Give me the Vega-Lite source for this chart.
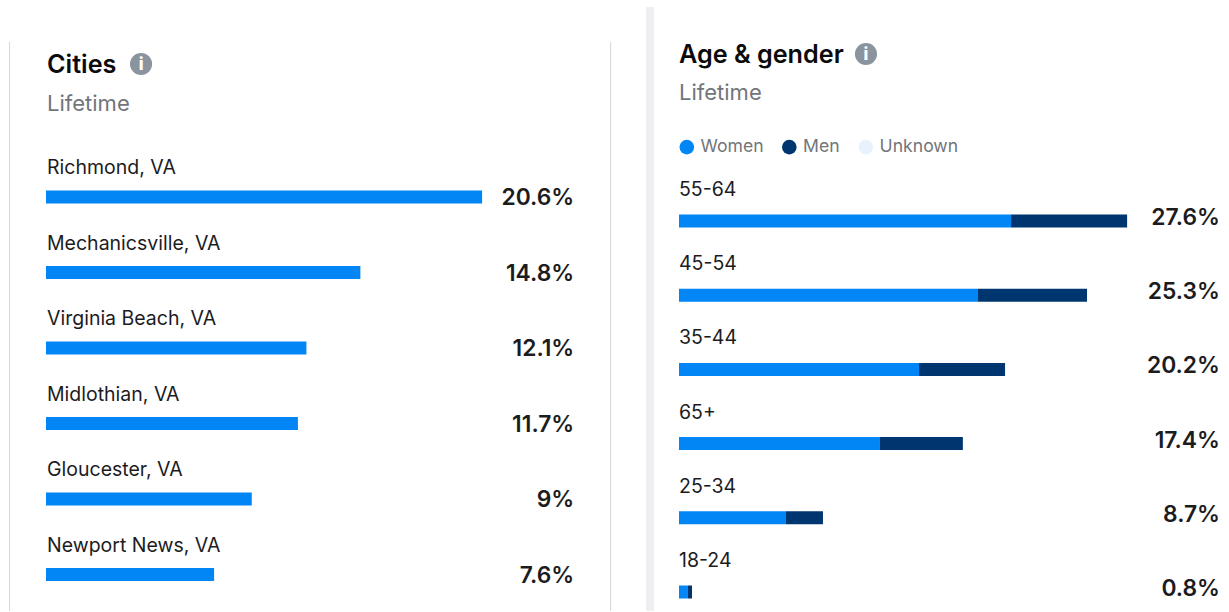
{
"$schema":"https://vega.github.io/schema/vega-lite/v6.json",
"padding":0,
"background":"white",
"spacing":0,
"config":{"view":{"stroke":null},"font":"Inter","text":{"font":"Inter"}},
"datasets":{
"cities":[
{"city":"Richmond, VA","share":20.6,"label":"20.6%"},
{"city":"Mechanicsville, VA","share":14.85,"label":"14.8%"},
{"city":"Virginia Beach, VA","share":12.3,"label":"12.1%"},
{"city":"Midlothian, VA","share":11.9,"label":"11.7%"},
{"city":"Gloucester, VA","share":9.72,"label":"9%"},
{"city":"Newport News, VA","share":7.94,"label":"7.6%"}
],
"ages":[
{"age":"55-64","gender":"Women","share":20.46,"ord":1},
{"age":"55-64","gender":"Men","share":7.15,"ord":2},
{"age":"45-54","gender":"Women","share":18.42,"ord":1},
{"age":"45-54","gender":"Men","share":6.72,"ord":2},
{"age":"35-44","gender":"Women","share":14.79,"ord":1},
{"age":"35-44","gender":"Men","share":5.3,"ord":2},
{"age":"65+","gender":"Women","share":12.38,"ord":1},
{"age":"65+","gender":"Men","share":5.11,"ord":2},
{"age":"25-34","gender":"Women","share":6.59,"ord":1},
{"age":"25-34","gender":"Men","share":2.28,"ord":2},
{"age":"18-24","gender":"Women","share":0.55,"ord":1},
{"age":"18-24","gender":"Men","share":0.25,"ord":2}
],
"ageTotals":[
{"age":"55-64","label":"27.6%"},
{"age":"45-54","label":"25.3%"},
{"age":"35-44","label":"20.2%"},
{"age":"65+","label":"17.4%"},
{"age":"25-34","label":"8.7%"},
{"age":"18-24","label":"0.8%"}
]
},
"hconcat":[
{
"width":640,"height":612,
"resolve":{"scale":{"y":"independent"}},
"layer":[
{
"data":{"values":[{"edge":-1.72,"top":0,"bottom":1},{"edge":26.67,"top":0,"bottom":1}]},
"mark":{"type":"rule","color":"#d6d6dc","strokeWidth":1},
"encoding":{
"x":{"field":"edge","type":"quantitative","axis":null,"scale":{"domain":[0,25],"range":[46,575.25],"clamp":false,"nice":false}},
"y":{"field":"top","type":"quantitative","axis":null,"scale":{"domain":[0,1],"range":[42,611],"nice":false}},
"y2":{"field":"bottom"}
}
},
{
"encoding":{
"y":{"field":"city","type":"nominal","axis":null,"scale":{"type":"band","domain":["header","Richmond, VA","Mechanicsville, VA","Virginia Beach, VA","Midlothian, VA","Gloucester, VA","Newport News, VA"],"range":[83.75,612.25],"paddingInner":0,"paddingOuter":0}}
},
"layer":[
{"data":{"name":"cities"},"mark":{"type":"bar","color":"#0285F5","size":13,"cornerRadius":0},
"encoding":{"x":{"field":"share","type":"quantitative","axis":null}}},
{"data":{"name":"cities"},"mark":{"type":"text","align":"left","baseline":"middle","dy":-29,"dx":1,"fontSize":19.5,"color":"#1c1c1e"},
"encoding":{"x":{"datum":0,"type":"quantitative"},"text":{"field":"city"}}},
{"data":{"name":"cities"},"mark":{"type":"text","align":"right","baseline":"middle","dy":1,"fontSize":22.8,"fontWeight":600,"color":"#1c1c1e"},
"encoding":{"x":{"datum":24.95,"type":"quantitative"},"text":{"field":"label"}}},
{"data":{"values":[{"city":"header","t":"Cities"}]},"mark":{"type":"text","align":"left","baseline":"middle","dy":-56.5,"dx":1,"fontSize":25.2,"fontWeight":600,"color":"#0b0b0b"},
"encoding":{"x":{"datum":0,"type":"quantitative"},"text":{"field":"t"}}},
{"data":{"values":[{"city":"header","t":"Lifetime"}]},"mark":{"type":"text","align":"left","baseline":"middle","dy":-17.5,"dx":1,"fontSize":22,"color":"#72757a"},
"encoding":{"x":{"datum":0,"type":"quantitative"},"text":{"field":"t"}}},
{"data":{"values":[{"city":"header","at":4.49}]},"mark":{"type":"point","shape":"circle","filled":true,"size":490,"opacity":1,"color":"#8a949e","yOffset":-57.5},
"encoding":{"x":{"field":"at","type":"quantitative"}}},
{"data":{"values":[{"city":"header","at":4.49,"t":"i"}]},"mark":{"type":"text","align":"center","baseline":"middle","dy":-57,"fontSize":17,"fontWeight":800,"color":"white"},
"encoding":{"x":{"field":"at","type":"quantitative"},"text":{"field":"t"}}}
]
}
]
},
{
"width":589,"height":612,
"resolve":{"scale":{"y":"independent"}},
"layer":[
{
"data":{"values":[{"edge":-1.787,"top":0,"bottom":1}]},
"mark":{"type":"rule","color":"#eeeef3","strokeWidth":8},
"encoding":{
"x":{"field":"edge","type":"quantitative","axis":null,"scale":{"domain":[0,34],"range":[39,590.82],"clamp":false,"nice":false}},
"y":{"field":"top","type":"quantitative","axis":null,"scale":{"domain":[0,1],"range":[7,611],"nice":false}},
"y2":{"field":"bottom"}
}
},
{
"encoding":{
"y":{"field":"age","type":"nominal","axis":null,"scale":{"type":"band","domain":["header","55-64","45-54","35-44","65+","25-34","18-24"],"range":[109.7,629.1],"paddingInner":0,"paddingOuter":0}}
},
"layer":[
{"data":{"name":"ages"},"mark":{"type":"bar","size":13},
"encoding":{
"x":{"field":"share","type":"quantitative","axis":null,"stack":"zero"},
"order":{"field":"ord","type":"quantitative"},
"color":{"field":"gender","type":"nominal","scale":{"domain":["Women","Men","Unknown"],"range":["#0285F5","#00366F","#E8F2FD"]},
"legend":{"title":null,"orient":"none","legendX":678,"legendY":138,"direction":"horizontal","columns":3,"symbolType":"circle","symbolSize":215,"symbolStrokeWidth":0,"labelFont":"Inter","labelFontSize":17.6,"labelColor":"#72757a","labelOffset":5,"columnPadding":16.5,"padding":0}}
}},
{"data":{"name":"ageTotals"},"mark":{"type":"text","align":"left","baseline":"middle","dy":-31,"fontSize":19.5,"color":"#1c1c1e"},
"encoding":{"x":{"datum":0,"type":"quantitative"},"text":{"field":"age"}}},
{"data":{"name":"ageTotals"},"mark":{"type":"text","align":"right","baseline":"middle","dy":-3,"fontSize":22.8,"fontWeight":600,"color":"#1c1c1e"},
"encoding":{"x":{"datum":33.33,"type":"quantitative"},"text":{"field":"label"}}},
{"data":{"values":[{"age":"header","t":"Age & gender"}]},"mark":{"type":"text","align":"left","baseline":"middle","dy":-91.8,"fontSize":25.2,"fontWeight":600,"color":"#0b0b0b"},
"encoding":{"x":{"datum":0,"type":"quantitative"},"text":{"field":"t"}}},
{"data":{"values":[{"age":"header","t":"Lifetime"}]},"mark":{"type":"text","align":"left","baseline":"middle","dy":-53.8,"fontSize":22,"color":"#72757a"},
"encoding":{"x":{"datum":0,"type":"quantitative"},"text":{"field":"t"}}},
{"data":{"values":[{"age":"header","at":11.52}]},"mark":{"type":"point","shape":"circle","filled":true,"size":490,"opacity":1,"color":"#8a949e","yOffset":-92.8},
"encoding":{"x":{"field":"at","type":"quantitative"}}},
{"data":{"values":[{"age":"header","at":11.52,"t":"i"}]},"mark":{"type":"text","align":"center","baseline":"middle","dy":-92.3,"fontSize":17,"fontWeight":800,"color":"white"},
"encoding":{"x":{"field":"at","type":"quantitative"},"text":{"field":"t"}}}
]
}
]
}
]
}
